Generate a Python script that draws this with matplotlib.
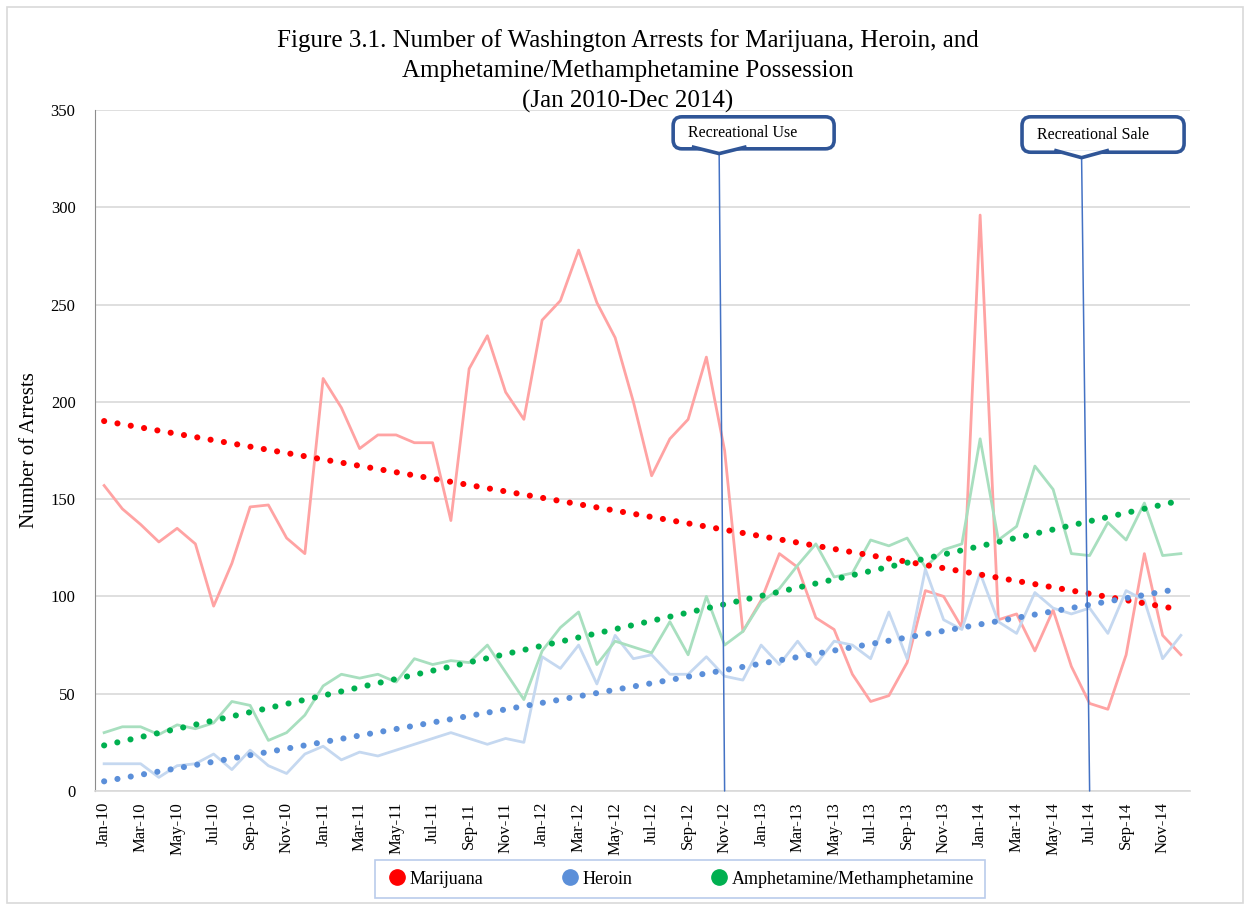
import matplotlib.pyplot as plt
import numpy as np
from matplotlib.patches import FancyBboxPatch, Rectangle, Polygon
from matplotlib.lines import Line2D

plt.rcParams['font.family'] = ['Liberation Serif', 'DejaVu Serif']

# Months Jan 2010 - Dec 2014
month_names = ['Jan', 'Feb', 'Mar', 'Apr', 'May', 'Jun',
               'Jul', 'Aug', 'Sep', 'Oct', 'Nov', 'Dec']
years = ['10', '11', '12', '13', '14']
months = [f"{m}-{y}" for y in years for m in month_names]

# Monthly arrests
marijuana = [157, 145, 137, 128, 135, 127, 95, 117, 146, 147, 130, 122,
             212, 197, 176, 183, 183, 179, 179, 139, 217, 234, 205, 191,
             242, 252, 278, 251, 233, 200, 162, 181, 191, 223, 175, 82,
             98, 122, 115, 89, 83, 60, 46, 49, 66, 103, 100, 84,
             296, 88, 91, 72, 93, 64, 45, 42, 70, 122, 80, 70]
heroin = [14, 14, 14, 7, 13, 14, 19, 11, 21, 13, 9, 19,
          23, 16, 20, 18, 21, 24, 27, 30, 27, 24, 27, 25,
          69, 63, 75, 55, 80, 68, 70, 60, 60, 69, 59, 57,
          75, 65, 77, 65, 77, 75, 68, 92, 68, 114, 88, 83,
          112, 87, 81, 102, 94, 91, 94, 81, 103, 98, 68, 80]
amphetamine = [30, 33, 33, 29, 34, 32, 35, 46, 44, 26, 30, 39,
               54, 60, 58, 60, 56, 68, 65, 67, 66, 75, 61, 47,
               72, 84, 92, 65, 77, 74, 71, 87, 70, 100, 75, 82,
               97, 104, 116, 127, 110, 112, 129, 126, 130, 115, 124, 127,
               181, 129, 136, 167, 155, 122, 121, 138, 129, 148, 121, 122]

series = [
    ('Marijuana', marijuana, '#FF0000', '#FFA3A3'),
    ('Heroin', heroin, '#5B8FD9', '#C5D8F0'),
    ('Amphetamine/Methamphetamine', amphetamine, '#00B050', '#A8DFBF'),
]

callouts = [('Recreational Use', 'Nov-12'), ('Recreational Sale', 'Jul-14')]

fig = plt.figure(figsize=(12.48, 9.07), dpi=100)
ax = fig.add_axes([95 / 1248, 1 - 791 / 907, 1095 / 1248, 681 / 907])

x = np.arange(len(months))
for name, vals, dark, light in series:
    ax.plot(x, vals, color=light, lw=2.0, zorder=2)
# linear trendlines
for name, vals, dark, light in series:
    slope, icpt = np.polyfit(x, vals, 1)
    ax.plot(x, slope * x + icpt, color=dark, lw=4.4,
            linestyle=(0, (0.01, 2.2)), dash_capstyle='round', zorder=3)

ax.set_xlim(-0.5, len(months) - 0.5)
ax.set_ylim(0, 350)
ax.set_yticks(range(0, 351, 50))
ax.set_xticks(x[::2])
ax.set_xticklabels(months[::2], rotation=90, fontsize=12)
ax.tick_params(axis='y', length=0, pad=14, labelsize=12)
ax.tick_params(axis='x', length=0, pad=8)
ax.grid(axis='y', color='#D9D9D9', lw=1.2)
ax.set_axisbelow(True)
for s in ['top', 'right']:
    ax.spines[s].set_visible(False)
ax.spines['left'].set_color('#8C8C8C')
ax.spines['bottom'].set_color('#D9D9D9')
ax.spines['bottom'].set_linewidth(1.2)
ax.set_ylabel('Number of Arrests', fontsize=15, labelpad=8)

# callout boxes (axes fraction) and pointer lines
boxes = [(0.528, 0.943, 0.147, 0.047, 0.570, 0.936),
         (0.8466, 0.938, 0.148, 0.052, 0.901, 0.930)]
for (label, month), (bx, by, bw, bh, nx, ny) in zip(callouts, boxes):
    idx = months.index(month)
    ax.annotate('', xy=(idx, 0), xycoords='data', xytext=(nx, ny),
                textcoords='axes fraction',
                arrowprops=dict(arrowstyle='-', color='#4472C4', lw=1.1,
                                shrinkA=0, shrinkB=0), zorder=4)
    box = FancyBboxPatch((bx, by), bw, bh, transform=ax.transAxes,
                         boxstyle='round,pad=0,rounding_size=0.008',
                         fc='white', ec='#2F5597', lw=2.6, zorder=5,
                         clip_on=False, mutation_aspect=1.6)
    ax.add_patch(box)
    ax.add_patch(Polygon([(nx - 0.025, by + 0.003), (nx, ny), (nx + 0.025, by + 0.003)],
                         closed=False, transform=ax.transAxes, fc='white',
                         ec='#2F5597', lw=2.6, zorder=6, clip_on=False,
                         joinstyle='round'))
    ax.text(bx + 0.014, by + bh / 2, label, transform=ax.transAxes,
            ha='left', va='center', fontsize=11.5, zorder=7)

# title
fig.text(0.503, 1 - 29 / 907,
         'Figure 3.1. Number of Washington Arrests for Marijuana, Heroin, and\n'
         'Amphetamine/Methamphetamine Possession\n(Jan 2010-Dec 2014)',
         ha='center', va='top', fontsize=18, linespacing=1.45)

# legend
handles = [Line2D([], [], marker='o', ls='none', markersize=11,
                  markerfacecolor=dark, markeredgecolor=dark)
           for name, vals, dark, light in series]
leg = fig.legend(handles, [s[0] for s in series], loc='center',
                 bbox_to_anchor=(680 / 1248, 1 - 879 / 907), ncol=3,
                 fontsize=13, frameon=True, fancybox=False,
                 handletextpad=0.1, columnspacing=4.2, borderpad=0.6,
                 handlelength=1.2)
leg.get_frame().set_edgecolor('#A9BFE6')
leg.get_frame().set_linewidth(1.2)

# chart area border
fig.patches.append(Rectangle((7 / 1248, 4 / 907), 1236 / 1248, 896 / 907,
                             transform=fig.transFigure, fill=False,
                             ec='#D9D9D9', lw=1.2))

fig.savefig('out.png', dpi=100)
